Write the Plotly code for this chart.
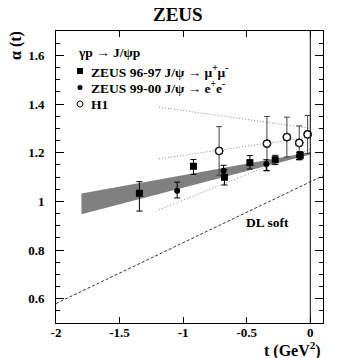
import plotly.graph_objects as go

# ---- data ----
zeus9697_t = [-1.344, -0.919, -0.675, -0.475, -0.276, -0.079]
zeus9697_a = [1.033, 1.144, 1.099, 1.159, 1.171, 1.189]
zeus9697_up = [0.048, 0.028, 0.032, 0.029, 0.018, 0.015]
zeus9697_dn = [0.073, 0.033, 0.032, 0.026, 0.020, 0.015]

zeus9900_t = [-1.047, -0.682, -0.346, -0.089]
zeus9900_a = [1.044, 1.126, 1.153, 1.187]
zeus9900_up = [0.035, 0.022, 0.018, 0.015]
zeus9900_dn = [0.030, 0.022, 0.026, 0.015]

h1_t = [-0.717, -0.341, -0.184, -0.087, -0.021]
h1_a = [1.207, 1.237, 1.264, 1.240, 1.275]
h1_err = [0.100, 0.112, 0.082, 0.070, 0.078]

band_t = [-1.8, 0.0]
band_upper = [1.032, 1.202]
band_lower = [0.947, 1.192]

h1fit_t = [-1.19, 0.0]
h1fit_upper = [1.387, 1.300]
h1fit_central = [1.175, 1.264]
h1fit_lower = [0.965, 1.215]

dl_t = [-2.0, 0.1]
dl_a = [0.58, 1.105]

xtick_vals = [-2, -1.5, -1, -0.5, 0]
xtick_text = ["-2", "-1.5", "-1", "-0.5", "0"]
ytick_vals = [0.6, 0.8, 1.0, 1.2, 1.4, 1.6]
ytick_text = ["0.6", "0.8", "1", "1.2", "1.4", "1.6"]

FONT = "Liberation Serif"

fig = go.Figure()

# ZEUS fit band
fig.add_trace(go.Scatter(
    x=band_t + band_t[::-1], y=band_upper + band_lower[::-1],
    fill="toself", fillcolor="#808080", line=dict(width=0, color="#808080"),
    mode="lines", showlegend=False, hoverinfo="skip"))

# H1 fit lines
for ys in (h1fit_upper, h1fit_central, h1fit_lower):
    fig.add_trace(go.Scatter(x=h1fit_t, y=ys, mode="lines",
                             line=dict(color="#888888", width=1, dash="1px,2px"),
                             showlegend=False, hoverinfo="skip"))

# DL soft
fig.add_trace(go.Scatter(x=dl_t, y=dl_a, mode="lines",
                         line=dict(color="#333333", width=1, dash="3px,2px"),
                         showlegend=False, hoverinfo="skip"))

# H1 points
fig.add_trace(go.Scatter(
    x=h1_t, y=h1_a, mode="markers",
    marker=dict(symbol="circle-open", size=8, color="black", line=dict(width=1, color="black")),
    error_y=dict(type="data", array=h1_err, color="#444444", thickness=1, width=3),
    showlegend=False))
# white fill for open circles
fig.add_trace(go.Scatter(
    x=h1_t, y=h1_a, mode="markers",
    marker=dict(symbol="circle", size=7, color="white", line=dict(width=1, color="black")),
    showlegend=False, hoverinfo="skip"))

# ZEUS 99-00
fig.add_trace(go.Scatter(
    x=zeus9900_t, y=zeus9900_a, mode="markers",
    marker=dict(symbol="circle", size=6, color="black"),
    error_y=dict(type="data", array=zeus9900_up, arrayminus=zeus9900_dn,
                 color="black", thickness=1, width=3),
    showlegend=False))

# ZEUS 96-97
fig.add_trace(go.Scatter(
    x=zeus9697_t, y=zeus9697_a, mode="markers",
    marker=dict(symbol="square", size=7, color="black"),
    error_y=dict(type="data", array=zeus9697_up, arrayminus=zeus9697_dn,
                 color="black", thickness=1, width=3),
    showlegend=False))

# vertical line at t=0
fig.add_shape(type="line", x0=0, x1=0, y0=0, y1=1, xref="x", yref="paper",
              line=dict(color="black", width=1))

# ---- legend (manual) ----
W, H = 337, 358
ml, mr, mt, mb = 56, 14, 31, 35
pw, ph = W - ml - mr, H - mt - mb

def px(xp):
    return (xp - ml) / pw

def py(yp):
    return 1 - (yp - mt) / ph

leg_font = dict(family=FONT, size=13.5, color="black")
legend_rows = [
    (53, None, "γp → J/ψp"),
    (71, "square", "ZEUS 96-97 J/ψ → μ<sup>+</sup>μ<sup>-</sup>"),
    (87.5, "dot", "ZEUS 99-00 J/ψ → e<sup>+</sup>e<sup>-</sup>"),
    (104, "open", "H1"),
]
for yp, sym, txt in legend_rows:
    fig.add_annotation(x=px(89 if sym else 76), y=py(yp), xref="paper", yref="paper",
                       text="<b>" + txt + "</b>", showarrow=False,
                       xanchor="left", yanchor="middle", font=leg_font)
    if sym == "square":
        fig.add_shape(type="rect", xref="paper", yref="paper", xsizemode="pixel", ysizemode="pixel",
                      xanchor=px(80), yanchor=py(yp), x0=-3, x1=3, y0=-3, y1=3,
                      fillcolor="black", line=dict(width=0))
    elif sym == "dot":
        fig.add_shape(type="circle", xref="paper", yref="paper", xsizemode="pixel", ysizemode="pixel",
                      xanchor=px(80), yanchor=py(yp), x0=-2.5, x1=2.5, y0=-2.5, y1=2.5,
                      fillcolor="black", line=dict(width=0))
    elif sym == "open":
        fig.add_shape(type="circle", xref="paper", yref="paper", xsizemode="pixel", ysizemode="pixel",
                      xanchor=px(80), yanchor=py(yp), x0=-3, x1=3, y0=-3, y1=3,
                      fillcolor="white", line=dict(width=1, color="black"))

# DL soft label
fig.add_annotation(x=-0.34, y=0.915, text="<b>DL soft</b>", showarrow=False,
                   font=dict(family=FONT, size=13.5, color="black"))

# title
fig.add_annotation(x=px(178), y=py(14), xref="paper", yref="paper", text="<b>ZEUS</b>",
                   showarrow=False, font=dict(family=FONT, size=19, color="black"),
                   xanchor="center", yanchor="middle")
# axis titles
fig.add_annotation(x=px(16), y=py(46), xref="paper", yref="paper", text="<b>α (t)</b>",
                   textangle=-90, showarrow=False, font=dict(family=FONT, size=16, color="black"),
                   xanchor="center", yanchor="middle")
fig.add_annotation(x=px(323), y=py(349), xref="paper", yref="paper",
                   text="<b>t (GeV<sup>2</sup>)</b>",
                   showarrow=False, font=dict(family=FONT, size=16, color="black"),
                   xanchor="right", yanchor="middle")

fig.update_layout(
    width=W, height=H, margin=dict(l=ml, r=mr, t=mt, b=mb),
    plot_bgcolor="white", paper_bgcolor="white",
    font=dict(family=FONT, size=13, color="black"),
    showlegend=False,
)
fig.update_xaxes(range=[-2.0, 0.1], tickvals=xtick_vals, ticktext=["<b>%s</b>" % s for s in xtick_text],
                 ticks="inside", ticklen=6, tickcolor="black", showline=True, linecolor="black",
                 linewidth=1, mirror="allticks", showgrid=False, zeroline=False,
                 ticklabelstandoff=-3)
fig.update_yaxes(range=[0.5, 1.7], tickvals=ytick_vals, ticktext=["<b>%s</b>" % s for s in ytick_text],
                 ticks="inside", ticklen=8, tickcolor="black", showline=True, linecolor="black",
                 linewidth=1, mirror="allticks", showgrid=False, zeroline=False,
                 ticklabelstandoff=8,
                 minor=dict(ticks="inside", dtick=0.05, tick0=0.5, ticklen=4, tickcolor="black",
                            showgrid=False))

fig.write_html("out.html")
